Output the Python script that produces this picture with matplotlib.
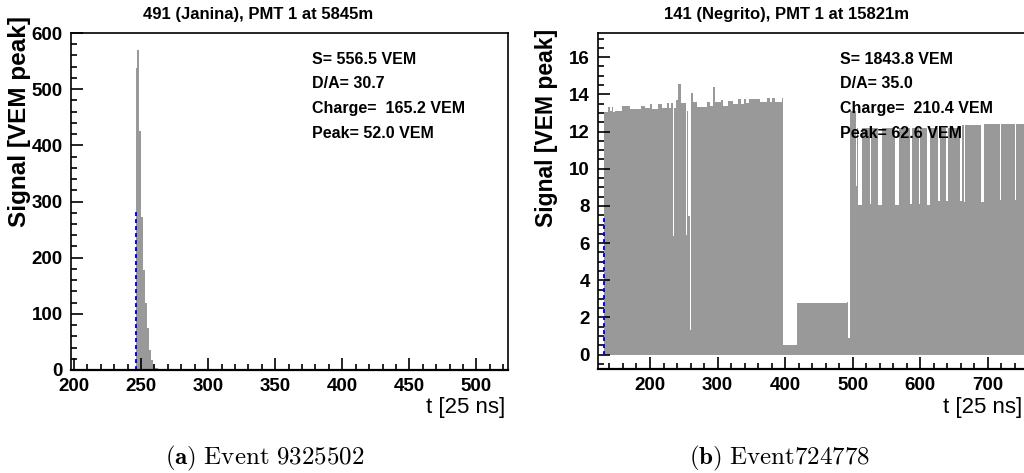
"""
Traços de sinal (VEM peak) de dois eventos — réplica estilo ROOT.
"""
import matplotlib.pyplot as plt
from matplotlib.ticker import MultipleLocator

plt.rcParams.update({
    'font.family': 'Liberation Sans',
    'font.weight': 'bold',
    'mathtext.fontset': 'cm',
    'figure.facecolor': 'white',
})

# ── evento (a): pico estreito ─────────────────────────────────
edges_a = [246.0, 247.2, 248.7, 250.2, 251.7, 253.1, 254.4, 255.9, 257.4, 258.9, 260.3, 262.8]
signal_a = [538, 569, 425, 273, 178, 119, 75, 36, 18, 9, 4]
start_a = 246.2
start_height_a = 287
stats_a = ['S= 556.5 VEM', 'D/A= 30.7', 'Charge=  165.2 VEM', 'Peak= 52.0 VEM']
title_a = '491 (Janina), PMT 1 at 5845m'
caption_a = r'$\mathbf{(a)}\ \mathrm{Event\ 9325502}$'

# ── evento (b): traço saturado, lido por segmentos ────────────
edges_b = [132, 138.3, 140.8, 143, 145, 148, 158, 170, 187, 192,
           200, 202.5, 212.3, 218.2, 225.6, 228.1, 230.6, 234.5, 236, 238.5,
           241.9, 245.9, 253.3, 254.2, 256.7, 259.1, 260.6, 264, 269, 283.8,
           288.8, 293.7, 296.2, 304.5, 307.5, 315.9, 323.3, 330.7, 334.1, 339,
           341.5, 346.4, 362.7, 373.6, 377.5, 381, 385, 394.8, 397.2, 417,
           491, 493.4, 495.9, 504.3, 505.8, 508.2, 514.1, 525.5, 527.9, 537.8,
           543.7, 562.5, 568.4, 584.7, 588.1, 598, 600.4, 610.3, 615.2, 626.6,
           629, 638.9, 641.4, 658.6, 662, 664.5, 667, 690.7, 694.1, 717.8,
           720.2, 740, 742.4, 770]
signal_b = [13.03, 13.32, 13.1, 13.32, 13.05, 13.1, 13.4, 13.2, 13.35, 13.25,
            13.48, 13.2, 13.48, 13.26, 13.53, 13.26, 13.53, 6.36, 13.26, 13.67,
            14.55, 13.53, 6.45, 13.08, 7.44, 1.34, 14.07, 13.57, 13.32, 13.57,
            13.39, 14.39, 13.57, 13.67, 13.4, 13.62, 13.48, 13.75, 13.48, 13.75,
            13.53, 13.75, 13.57, 13.8, 13.57, 13.8, 13.57, 13.8, 0.54, 2.78,
            2.85, 0.9, 13.1, 9.05, 12.18, 8.06, 12.18, 8.1, 12.18, 8.06,
            12.18, 8.06, 12.18, 8.1, 12.18, 8.1, 12.18, 8.06, 12.18, 8.25,
            12.18, 8.25, 12.2, 8.25, 12.37, 8.2, 12.37, 8.2, 12.4, 8.3,
            12.42, 8.3, 12.42]
start_b = 132.4
start_height_b = 7.35
stats_b = ['S= 1843.8 VEM', 'D/A= 35.0', 'Charge=  210.4 VEM', 'Peak= 62.6 VEM']
title_b = '141 (Negrito), PMT 1 at 15821m'
caption_b = r'$\mathbf{(b)}\ \mathrm{Event724778}$'

W, H = 1024, 473
fig = plt.figure(figsize=(W / 100, H / 100), dpi=100)


def px(x, y):
    # pixel (topo-esquerda) -> fração da figura
    return x / W, 1 - y / H


def style_axes(ax, xmaj, xmin, ymaj, ymin):
    ax.xaxis.set_major_locator(MultipleLocator(xmaj))
    ax.xaxis.set_minor_locator(MultipleLocator(xmin))
    ax.yaxis.set_major_locator(MultipleLocator(ymaj))
    ax.yaxis.set_minor_locator(MultipleLocator(ymin))
    ax.tick_params(which='both', direction='in', top=False, right=False,
                   width=1.2, labelsize=13.5, pad=6)
    ax.tick_params(which='major', length=8.5)
    ax.tick_params(which='minor', length=4.5)
    for s in ax.spines.values():
        s.set_linewidth(1.2)
    ax.spines['bottom'].set_linewidth(1.6)
    for lab in ax.get_xticklabels() + ax.get_yticklabels():
        lab.set_fontweight('bold')


# ── painel (a) ────────────────────────────────────────────────
ax1 = fig.add_axes([71 / W, 1 - 370 / H, 437 / W, 337 / H])
ax1.stairs(signal_a, edges_a, fill=True, color='#999999', baseline=0)
ax1.plot([start_a, start_a], [0, start_height_a], color='#0000ff',
         lw=1.4, ls=(0, (2, 1.6)))
ax1.set_xlim(197.8, 523.5)
ax1.set_ylim(0, 600)
style_axes(ax1, 50, 10, 100, 20)

# ── painel (b) ────────────────────────────────────────────────
ax2 = fig.add_axes([598 / W, 1 - 369 / H, 437 / W, 336 / H])
ax2.stairs(signal_b, edges_b, fill=True, color='#999999', baseline=0)
ax2.plot([start_b, start_b], [0, start_height_b], color='#0000ff',
         lw=1.4, ls=(0, (2, 1.6)))
ax2.set_xlim(123, 770)
ax2.set_ylim(-0.77, 17.3)
style_axes(ax2, 100, 20, 2, 0.5)

# títulos, eixos e estatísticas
fig.text(*px(258, 15), title_a, ha='center', va='center', fontsize=12, fontweight='bold')
fig.text(*px(787, 15), title_b, ha='center', va='center', fontsize=12, fontweight='bold')

fig.text(*px(20, 227), 'Signal [VEM peak]', rotation=90, ha='center', va='bottom',
         fontsize=17.5, fontweight='bold')
fig.text(*px(547, 227), 'Signal [VEM peak]', rotation=90, ha='center', va='bottom',
         fontsize=16.5, fontweight='bold')

fig.text(*px(505, 407), 't [25 ns]', ha='right', va='center', fontsize=16, fontweight='normal')
fig.text(*px(1022, 407), 't [25 ns]', ha='right', va='center', fontsize=16, fontweight='normal')

for i, (sa, sb) in enumerate(zip(stats_a, stats_b)):
    y = [59, 84, 108, 133][i]
    fig.text(*px(312, y), sa, ha='left', va='center', fontsize=11.5, fontweight='bold', zorder=5)
    fig.text(*px(840, y), sb, ha='left', va='center', fontsize=11.5, fontweight='bold', zorder=5)

fig.text(*px(265, 464), caption_a, ha='center', va='baseline', fontsize=18)
fig.text(*px(780, 464), caption_b, ha='center', va='baseline', fontsize=18)

fig.savefig('out.png', dpi=100)
plt.close(fig)
